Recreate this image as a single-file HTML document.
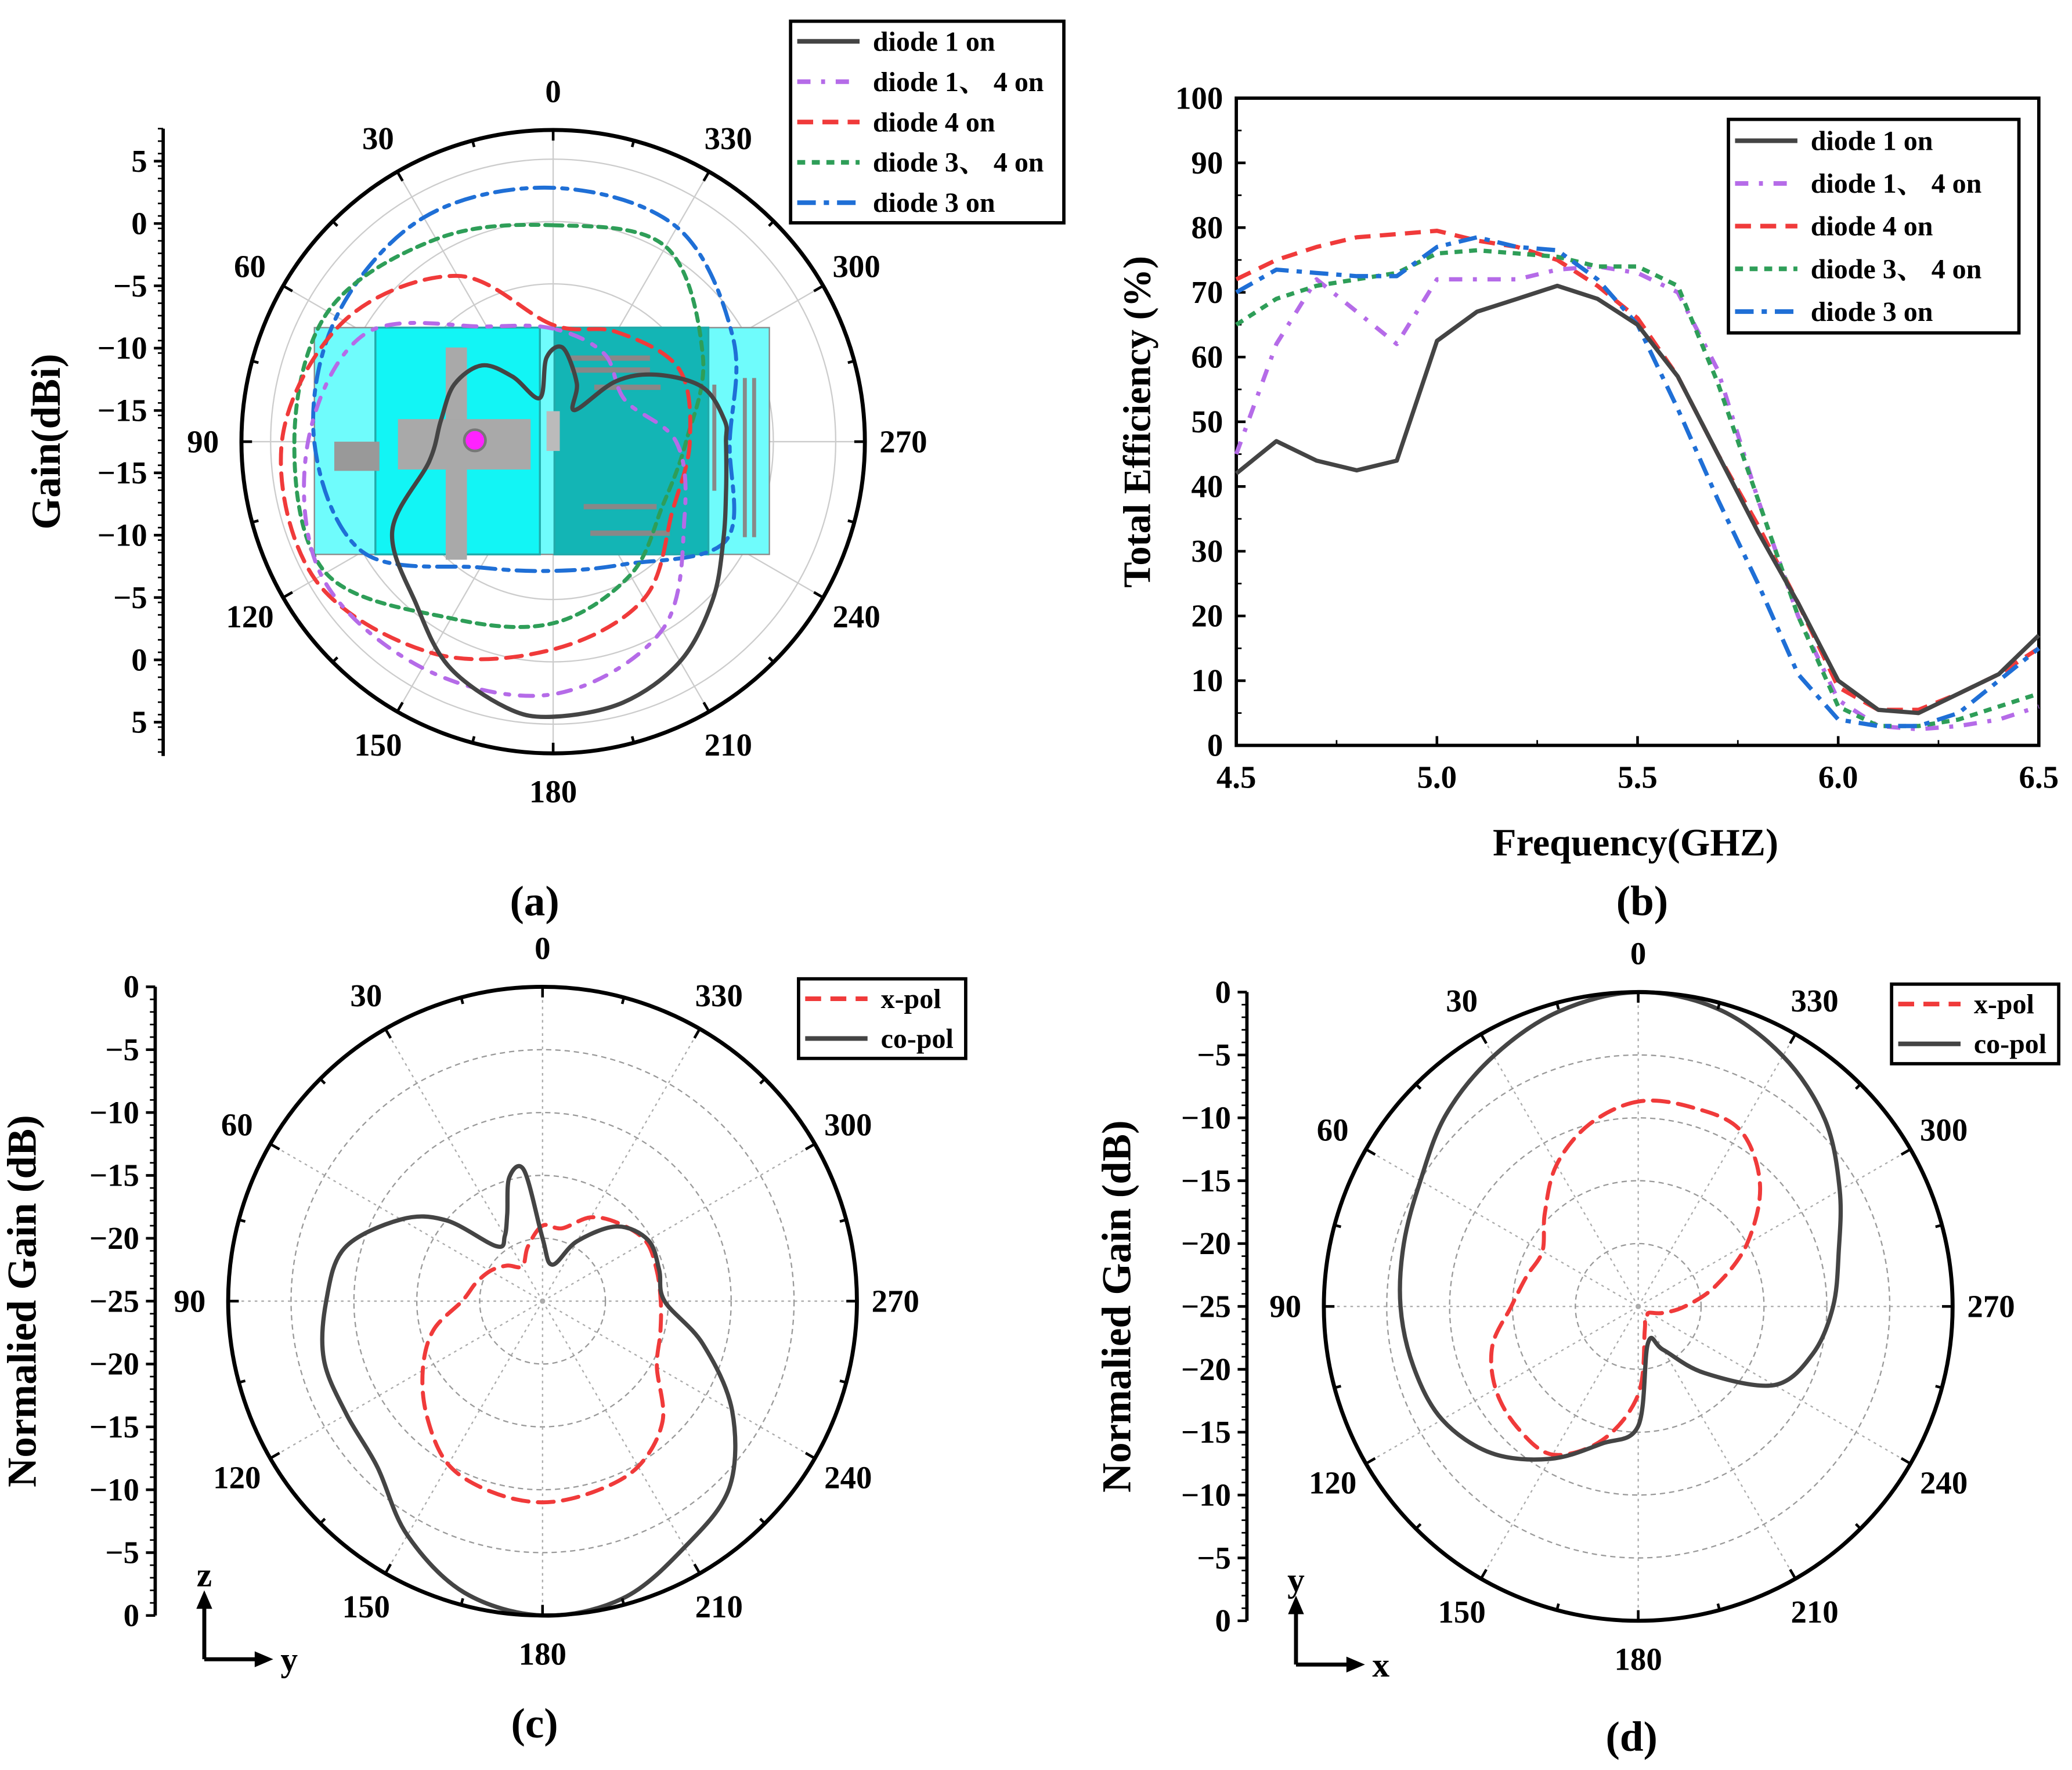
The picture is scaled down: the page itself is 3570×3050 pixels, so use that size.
<!DOCTYPE html>
<html><head><meta charset="utf-8"><style>
html,body{margin:0;padding:0;background:#fff}
svg{display:block}
text{font-family:"Liberation Serif","Noto Serif CJK SC",serif;font-weight:bold;fill:#000}
</style></head><body>
<svg id="root" xmlns="http://www.w3.org/2000/svg" width="3570" height="3050" viewBox="0 0 1562 1334.5">
<g id="gA"></g>
<g id="gB"></g>
<g id="gC"></g>
<g id="gD"></g>
</svg>
<script>
// ---------- DATA ----------
const anglesA = [0,30,60,90,120,150,180,210,240,270,300,330];
const aDiode3 = [2.7,3.1,2.4,1.5,0,-6,-7.3,-6.3,-1.7,-3.5,-1,2.2];
const aDiode34 = [-0.3,1.1,3.2,3.1,3.4,-1.3,-3.1,-5.3,-7.5,-7,-3.8,0.4];
const aDiode4 = [-8.3,-2.3,1.7,4.1,4.4,1.9,-1,-3.1,-6.6,-6.7,-6,-7.5];
const aDiode14 = [-8.6,-7,-0.3,2,3.8,3.3,2.6,-0.2,-5.5,-7.8,-11,-9.5];
const anglesA1 = [17,32,43,60,79,99,119,140,155,170,180,195,210,225,240,255,270,277,290,303,314,326,338,354,364.5];
const aDiode1 = [-14,-11.5,-9.3,-8.5,-8.5,-7.6,-2.9,-0.6,2.2,4.0,4.4,4.0,2.7,0.4,-1.9,-3.3,-3.8,-3.8,-4.9,-7.8,-10.7,-14.6,-12.6,-10.1,-10.9];
const anglesCD = [0,15,30,45,60,75,90,105,120,135,150,165,180,195,210,225,240,255,270,285,300,315,330,345];
const anglesC1 = [0,8,15,22,30,40,50,60,75,90,105,120,135,150,165,180,195,210,225,240,255,270,285,300,315,330,345];
const cCo = [-20,-14.5,-14.8,-17.5,-19,-19.3,-15,-12,-8.7,-7.8,-7,-7,-6.4,-3.5,-1,0,-0.5,-2.4,-4,-7.6,-11.8,-15.3,-15.4,-15.3,-16.6,-19.5,-22];
const cX = [-19,-20.5,-21.8,-21,-20.2,-19.5,-18.6,-16,-14,-12,-10,-9.3,-9,-9.3,-9.8,-11.5,-14.5,-15.3,-15.6,-15.6,-15.5,-16.3,-17.3,-19];
const dCo = [0,-0.7,-2,-3.4,-5,-5.7,-6.1,-6.5,-7,-8.5,-11,-13.7,-15.5,-22,-21,-17.5,-12.5,-10.6,-9.5,-8.5,-6.5,-4,-2,-0.5];
const dX = [-8.7,-10,-12,-14.5,-16.2,-15.8,-14.9,-13,-11.9,-11.4,-11.4,-14,-18,-23,-24,-24,-24,-23,-21.3,-18.6,-15,-11.3,-8.8,-8.6];
const freqs = [4.5,4.6,4.7,4.8,4.9,5.0,5.1,5.2,5.3,5.4,5.5,5.6,5.7,5.8,5.9,6.0,6.1,6.2,6.3,6.4,6.5];
const effD1 = [42,47,44,42.5,44,62.5,67,69,71,69,65,57,45,33,22,10,5.5,5,8,11,17];
const effD14 = [45,62,72,67,62,72,72,72,73.5,74,73,70,58,38,20,7,3,2.5,3,4,6];
const effD4 = [72,75,77,78.5,79,79.5,78,77,75,71,66,57,45,34,22,9,5.5,5.5,8,11,15];
const effD34 = [65,69,71,72,73,76,76.5,76,75.5,74,74,71,56,38,20,6,3,3,4,6,8];
const effD3 = [70,73.5,73,72.5,72.5,77,78.5,77,76.5,72,65,52,38,25,11,4,3,3,5,10,15];
const yTicksB = [0,10,20,30,40,50,60,70,80,90,100];
const xTicksB = [4.5,5.0,5.5,6.0,6.5];
const angleLabels = [0,30,60,90,120,150,180,210,240,270,300,330];
const gainLabelsA = ["5","0","\u22125","\u221210","\u221215"];
const gainLabelsCD = ["0","\u22125","\u221210","\u221215","\u221220","\u221225","\u221220","\u221215","\u221210","\u22125","0"];

const NS="http://www.w3.org/2000/svg";
function mk(parent,tag,attrs,txt){const e=document.createElementNS(NS,tag);for(const k in attrs)e.setAttribute(k,attrs[k]);if(txt!==undefined)e.textContent=txt;parent.appendChild(e);return e;}
function crPath(pts){let d="";const n=pts.length;for(let i=0;i<n;i++){const p0=pts[(i-1+n)%n],p1=pts[i],p2=pts[(i+1)%n],p3=pts[(i+2)%n];if(i===0)d+="M"+p1[0].toFixed(1)+","+p1[1].toFixed(1);const c1=[p1[0]+(p2[0]-p0[0])/6,p1[1]+(p2[1]-p0[1])/6],c2=[p2[0]-(p3[0]-p1[0])/6,p2[1]-(p3[1]-p1[1])/6];d+="C"+c1.map(v=>v.toFixed(1))+" "+c2.map(v=>v.toFixed(1))+" "+p2.map(v=>v.toFixed(1));}return d+"Z";}
const STY={black:{c:"#444",w:3.2,da:""},purple:{c:"#b56be8",w:3,da:"10,8,3,8"},red:{c:"#f03a3a",w:3,da:"12,7"},green:{c:"#2e9e58",w:3,da:"6,5"},blue:{c:"#1f6fd6",w:3,da:"14,6,4,6"}};

function polarFrame(g,cx,cy,R,dashedGrid,gridR){
  for(const r of gridR){const c=mk(g,"circle",{cx,cy,r,fill:"none",stroke:dashedGrid?"#999":"#ccc","stroke-width":1,"stroke-dasharray":dashedGrid?"4,3":""});
  }
  for(let a=0;a<360;a+=30){const t=a*Math.PI/180;const l=mk(g,"line",{x1:cx,y1:cy,x2:cx-R*Math.sin(t),y2:cy-R*Math.cos(t),stroke:dashedGrid?"#aaa":"#ccc","stroke-width":1,"stroke-dasharray":dashedGrid?"2,3":""});
  }
}
function polarOuter(g,cx,cy,R){
  const c=mk(g,"circle",{cx,cy,r:R,fill:"none",stroke:"#000","stroke-width":3});
  
  for(let a=0;a<360;a+=15){const t=a*Math.PI/180;const L=a%30===0?8:5;mk(g,"line",{x1:cx-R*Math.sin(t),y1:cy-R*Math.cos(t),x2:cx-(R-L)*Math.sin(t),y2:cy-(R-L)*Math.cos(t),stroke:"#000","stroke-width":2});}
  angleLabels.forEach(a=>{const t=a*Math.PI/180;const lr=R+29;const tx=mk(g,"text",{x:cx-lr*Math.sin(t),y:cy-lr*Math.cos(t)+8,"text-anchor":"middle","font-size":24},String(a));
  });
}
function polarCurve(g,cx,cy,rf,angles,vals,sty,name){
  const pts=angles.map((a,i)=>{const t=a*Math.PI/180;const r=Math.max(0,rf(vals[i]));return [cx-r*Math.sin(t),cy-r*Math.cos(t)];});
  const s=STY[sty];const p=mk(g,"path",{d:crPath(pts),fill:"none",stroke:s.c,"stroke-width":s.w,"stroke-dasharray":s.da,"stroke-linecap":"round"});
  
}
function vAxis(g,x,y0,y1,labels,name){
  const l=mk(g,"line",{x1:x,y1:y0,x2:x,y2:y1,stroke:"#000","stroke-width":2.5});
  
  const n=labels.length-1;
  for(let i=0;i<=n;i++){const y=y0+(y1-y0)*i/n;mk(g,"line",{x1:x,y1:y,x2:x-7,y2:y,stroke:"#000","stroke-width":2});
    if(i<n){for(let k=1;k<5;k++){const ym=y+(y1-y0)/n*k/5;mk(g,"line",{x1:x,y1:ym,x2:x-4,y2:ym,stroke:"#000","stroke-width":1.2});}}
    if(labels[i]!==""){const t=mk(g,"text",{x:x-12,y:y+8,"text-anchor":"end","font-size":24},labels[i]);}}
}
function legend(g,x,y,w,h,items,name){
  const r=mk(g,"rect",{x,y,width:w,height:h,fill:"#fff",stroke:"#000","stroke-width":2.5});
  
  const step=h/items.length;
  items.forEach((it,i)=>{const yy=y+step*(i+0.5);const s=STY[it[0]];
    const ln=mk(g,"line",{x1:x+5,y1:yy,x2:x+52,y2:yy,stroke:s.c,"stroke-width":3.5,"stroke-dasharray":s.da});
    
    const t=mk(g,"text",{x:x+62,y:yy+7,"font-size":21},it[1]);
    });
}
function axisTitle(g,x,y,txt,rot,name,fs){const t=mk(g,"text",{x,y,"text-anchor":"middle","font-size":fs||30,transform:rot?`rotate(-90 ${x} ${y})`:""},txt);}

// ---------- PANEL A ----------
(function(){
  const g=document.getElementById("gA");const cx=417,cy=333,R=235;
  const rf=v=>166+9.4*v;
  polarFrame(g,cx,cy,R,false,[rf(-15),rf(-10),rf(-5),rf(0),rf(5)]);
  const ant=mk(g,"g",{});
  mk(ant,"rect",{x:237,y:247,width:343,height:171,fill:"#6ffcfc",stroke:"#888","stroke-width":1});
  mk(ant,"rect",{x:283,y:247,width:124,height:171,fill:"#12f5f5",stroke:"#2aa","stroke-width":1.5});
  mk(ant,"rect",{x:418,y:247,width:116,height:171,fill:"#13b5b5",stroke:"#2aa","stroke-width":1.5});
  mk(ant,"rect",{x:336,y:262,width:16,height:160,fill:"#a9a9a9"});
  mk(ant,"rect",{x:300,y:316,width:100,height:38,fill:"#a9a9a9"});
  mk(ant,"rect",{x:252,y:333,width:34,height:22,fill:"#999"});
  mk(ant,"circle",{cx:358,cy:332,r:8,fill:"#ff22ff",stroke:"#777","stroke-width":2});
  mk(ant,"rect",{x:412,y:310,width:10,height:30,fill:"#bbb"});
  [[430,268,60],[430,277,60],[448,290,50],[440,380,55],[445,400,60]].forEach(a=>mk(ant,"rect",{x:a[0],y:a[1],width:a[2],height:4,fill:"#888"}));
  [[537,290,80],[560,285,120],[567,285,120]].forEach(a=>mk(ant,"rect",{x:a[0],y:a[1],width:3,height:a[2],fill:"#888"}));
  polarCurve(g,cx,cy,rf,anglesA,aDiode3,"blue","series-diode-3-on");
  polarCurve(g,cx,cy,rf,anglesA,aDiode34,"green","series-diode-3-4-on");
  polarCurve(g,cx,cy,rf,anglesA,aDiode4,"red","series-diode-4-on");
  polarCurve(g,cx,cy,rf,anglesA,aDiode14,"purple","series-diode-1-4-on");
  polarCurve(g,cx,cy,rf,anglesA1,aDiode1,"black","series-diode-1-on");
  polarOuter(g,cx,cy,R);
  const ax=mk(g,"line",{x1:123,y1:97,x2:123,y2:570,stroke:"#000","stroke-width":2.5});
  for(let y=97;y<=570;y+=9.4)mk(g,"line",{x1:123,y1:y,x2:119,y2:y,stroke:"#000","stroke-width":1.2});
  gainLabelsA.forEach((s,i)=>{[cy-23.5-47*(4-i), cy+23.5+47*(4-i)].forEach(y=>{
    mk(g,"line",{x1:123,y1:y,x2:116,y2:y,stroke:"#000","stroke-width":2});
    const t=mk(g,"text",{x:111,y:y+8,"text-anchor":"end","font-size":24},s);});});
  axisTitle(g,45,333,"Gain(dBi)",true,"gain-axis-title",31);
  legend(g,596,16,206,152,[["black","diode 1 on"],["purple","diode 1\u3001 4 on"],["red","diode 4 on"],["green","diode 3\u3001 4 on"],["blue","diode 3 on"]],"legend-a");
  const t=mk(g,"text",{x:403,y:690,"text-anchor":"middle","font-size":32},"(a)");
})();

// ---------- PANEL B ----------
(function(){
  const g=document.getElementById("gB");const x0=932,x1=1537,y0=562,y1=74;
  const xs=v=>x0+(v-4.5)/2*(x1-x0), ys=v=>y0-(v/100)*(y0-y1);
  const box=mk(g,"rect",{x:x0,y:y1,width:x1-x0,height:y0-y1,fill:"none",stroke:"#000","stroke-width":2.5});
  
  yTicksB.forEach(v=>{const y=ys(v);mk(g,"line",{x1:x0,y1:y,x2:x0+7,y2:y,stroke:"#000","stroke-width":2});
    if(v<100)mk(g,"line",{x1:x0,y1:y-24.4,x2:x0+4,y2:y-24.4,stroke:"#000","stroke-width":1.2});
    const t=mk(g,"text",{x:x0-10,y:y+8,"text-anchor":"end","font-size":24},String(v));});
  xTicksB.forEach(v=>{const x=xs(v);mk(g,"line",{x1:x,y1:y0,x2:x,y2:y0-7,stroke:"#000","stroke-width":2});
    if(v<6.5)mk(g,"line",{x1:x+75.6,y1:y0,x2:x+75.6,y2:y0-4,stroke:"#000","stroke-width":1.2});
    const t=mk(g,"text",{x,y:y0+32,"text-anchor":"middle","font-size":24},v.toFixed(1));});
  const series=[[effD4,"red","line-diode-4-on"],[effD14,"purple","line-diode-1-4-on"],[effD34,"green","line-diode-3-4-on"],[effD3,"blue","line-diode-3-on"],[effD1,"black","line-diode-1-on"]];
  series.forEach(s=>{const st=STY[s[1]];const d=s[0].map((v,i)=>(i?"L":"M")+xs(freqs[i]).toFixed(1)+","+ys(v).toFixed(1)).join("");
    const p=mk(g,"path",{d,fill:"none",stroke:st.c,"stroke-width":3.2,"stroke-dasharray":st.da,"stroke-linejoin":"round"});
    });
  axisTitle(g,867,318,"Total Efficiency (%)",true,"y-axis-title",29);
  axisTitle(g,1233,645,"Frequency(GHZ)",false,"x-axis-title",29);
  legend(g,1303,90,219,161,[["black","diode 1 on"],["purple","diode 1\u3001 4 on"],["red","diode 4 on"],["green","diode 3\u3001 4 on"],["blue","diode 3 on"]],"legend-b");
  const t=mk(g,"text",{x:1238,y:690,"text-anchor":"middle","font-size":32},"(b)");
})();

// ---------- PANELS C, D ----------
function panelCD(id,cx,cy,axX,coAng,co,xp,lab,labX,labY,legX,legY,ax1,ax2,axisTitleX){
  const g=document.getElementById(id);const R=237;const rf=v=>R+9.48*v;
  polarFrame(g,cx,cy,R,true,[rf(-20),rf(-15),rf(-10),rf(-5)]);
  polarCurve(g,cx,cy,rf,anglesCD,xp,"red","series-x-pol");
  polarCurve(g,cx,cy,rf,coAng,co,"black","series-co-pol");
  polarOuter(g,cx,cy,R);
  vAxis(g,axX,cy-R,cy+R,gainLabelsCD,"gain-axis");
  axisTitle(g,axisTitleX,cy,"Normalied Gain (dB)",true,"gain-axis-title",31);
  legend(g,legX,legY,126,60,[["red","x-pol"],["black","co-pol"]],"legend-"+lab);
  const ox=axX+37, oy=cy+270;
  const a=mk(g,"path",{d:`M${ox},${oy} L${ox},${oy-42} M${ox},${oy} L${ox+42},${oy}`,stroke:"#000","stroke-width":3,fill:"none"});
  mk(g,"path",{d:`M${ox-6},${oy-38} L${ox},${oy-52} L${ox+6},${oy-38}Z M${ox+38},${oy-6} L${ox+52},${oy} L${ox+38},${oy+6}Z`,fill:"#000"});
  let t=mk(g,"text",{x:ox,y:oy-55,"text-anchor":"middle","font-size":26},ax1);
  t=mk(g,"text",{x:ox+64,y:oy+9,"text-anchor":"middle","font-size":26},ax2);
  t=mk(g,"text",{x:labX,y:labY,"text-anchor":"middle","font-size":32},"("+lab+")");
}
panelCD("gC",409,981,117,anglesC1,cCo,cX,"c",403,1310,602,738,"z","y",27);
panelCD("gD",1235,985,940,anglesCD,dCo,dX,"d",1230,1320,1426,742,"y","x",852);
</script>
</body></html>
